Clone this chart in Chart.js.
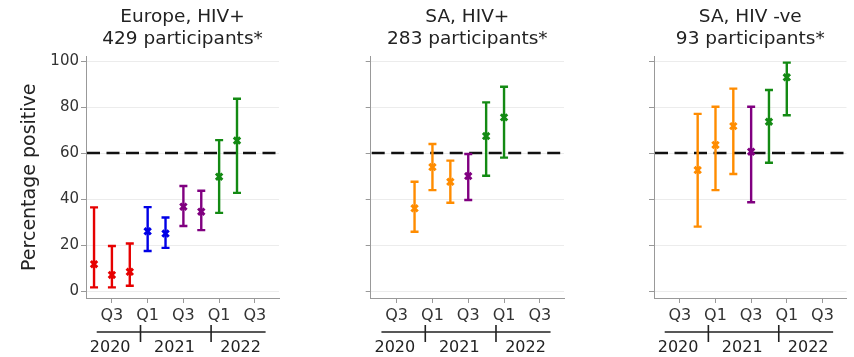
<!DOCTYPE html>
<html><head><meta charset="utf-8">
<script src="https://cdn.jsdelivr.net/npm/chart.js@4/dist/chart.umd.min.js"></script>
<style>
html,body{margin:0;padding:0;background:#fff;width:854px;height:357px;overflow:hidden}
canvas{position:absolute;top:0}
</style></head><body>
<canvas id="c1" width="290" height="357" style="left:0px"></canvas>
<canvas id="c2" width="275" height="357" style="left:300px"></canvas>
<canvas id="c3" width="264" height="357" style="left:590px"></canvas>
<script>
// ---- data ----
const quarterTickPos = [1, 3, 5, 7, 9];            // quarter index (0 = Q2 2020)
const quarterTickLabels = ['Q3', 'Q1', 'Q3', 'Q1', 'Q3'];
const yearLabels = ['2020', '2021', '2022'];
const yearLabelPos = [0.9, 4.5, 8.2];
const yearBoundaries = [2.6, 6.55];
const yearSpan = [0.15, 9.6];
const yTicks = [0, 20, 40, 60, 80, 100];
const threshold = 60;
const yTitle = 'Percentage positive';

const europeTitle = ['Europe, HIV+', '429 participants*'];
const europeQuarter = [0, 1, 2, 3, 4, 5, 6, 7, 8];
const europeEst = [11.7, 7.0, 8.4, 26.0, 25.0, 36.7, 34.5, 49.7, 65.4];
const europeLo  = [1.6, 1.6, 2.3, 17.4, 18.8, 28.3, 26.5, 34.0, 42.7];
const europeHi  = [36.4, 19.6, 20.7, 36.5, 32.0, 45.7, 43.6, 65.6, 83.6];
const europeWave = ['w1', 'w1', 'w1', 'w2', 'w2', 'w3', 'w3', 'w4', 'w4'];

const saPosTitle = ['SA, HIV+', '283 participants*'];
const saPosQuarter = [2, 3, 4, 5, 6, 7];
const saPosEst = [36.0, 53.9, 47.5, 50.0, 67.4, 75.5];
const saPosLo  = [25.8, 43.9, 38.4, 39.6, 50.1, 58.0];
const saPosHi  = [47.5, 63.9, 56.7, 59.6, 82.0, 88.8];
const saPosWave = ['w2b', 'w2b', 'w2b', 'w3', 'w4', 'w4'];

const saNegTitle = ['SA, HIV -ve', '93 participants*'];
const saNegQuarter = [2, 3, 4, 5, 6, 7];
const saNegEst = [52.6, 63.5, 71.7, 60.6, 73.6, 92.9];
const saNegLo  = [28.0, 43.9, 50.9, 38.6, 55.8, 76.4];
const saNegHi  = [77.0, 80.1, 88.0, 80.1, 87.4, 99.3];
const saNegWave = ['w2b', 'w2b', 'w2b', 'w3', 'w4', 'w4'];

// ---- styles ----
const waveColor = { w1: '#e60000', w2: '#0000e6', w2b: '#ff8c00', w3: '#800080', w4: '#138a13' };
const FONT = '"DejaVu Sans", sans-serif';
Chart.defaults.font.family = FONT;
Chart.defaults.color = '#333';

const refLine = {
  id: 'refLine',
  beforeDatasetsDraw(chart) {
    const { ctx, chartArea, scales: { y } } = chart;
    const py = y.getPixelForValue(threshold);
    ctx.save();
    ctx.strokeStyle = '#111'; ctx.lineWidth = 2.6; ctx.setLineDash([13, 6.5]);
    ctx.beginPath(); ctx.moveTo(chartArea.left + 1, py); ctx.lineTo(chartArea.right, py); ctx.stroke();
    ctx.restore();
  }
};

const errorBars = {
  id: 'errorBars',
  beforeDatasetsDraw(chart, args, opts) {
    const { ctx, scales: { x, y } } = chart;
    const d = opts.q;
    if (!d) return;
    ctx.save();
    ctx.lineWidth = 2.4;
    d.forEach((q, i) => {
      const px = x.getPixelForValue(q);
      const pl = y.getPixelForValue(opts.lo[i]);
      const ph = y.getPixelForValue(opts.hi[i]);
      ctx.strokeStyle = waveColor[opts.wave[i]];
      ctx.beginPath();
      ctx.moveTo(px, pl); ctx.lineTo(px, ph);
      ctx.moveTo(px - 4, pl); ctx.lineTo(px + 4, pl);
      ctx.moveTo(px - 4, ph); ctx.lineTo(px + 4, ph);
      ctx.stroke();
    });
    ctx.restore();
  }
};

const yearBracket = {
  id: 'yearBracket',
  afterDraw(chart) {
    const { ctx, chartArea, scales: { x } } = chart;
    const yl = chartArea.bottom + 34;
    ctx.save();
    ctx.strokeStyle = '#222'; ctx.lineWidth = 1.6;
    ctx.beginPath();
    ctx.moveTo(x.getPixelForValue(yearSpan[0]), yl);
    ctx.lineTo(x.getPixelForValue(yearSpan[1]), yl);
    yearBoundaries.forEach(b => {
      const px = x.getPixelForValue(b);
      ctx.moveTo(px, yl - 7); ctx.lineTo(px, yl + 10);
    });
    ctx.stroke();
    ctx.font = '16px ' + FONT; ctx.fillStyle = '#222';
    ctx.textAlign = 'center'; ctx.textBaseline = 'middle';
    yearLabels.forEach((t, i) => ctx.fillText(t, x.getPixelForValue(yearLabelPos[i]), chartArea.bottom + 50));
    ctx.restore();
  }
};

function makePanel(id, title, q, est, lo, hi, wave, showY, yWidth, padRight) {
  new Chart(document.getElementById(id), {
    type: 'scatter',
    data: {
      datasets: [{
        data: q.map((v, i) => ({ x: v, y: est[i] })),
        pointStyle: 'crossRot',
        pointRadius: 4.5,
        pointBorderWidth: 3,
        pointBorderColor: wave.map(w => waveColor[w]),
        pointBackgroundColor: wave.map(w => waveColor[w]),
        showLine: false
      }]
    },
    options: {
      responsive: false,
      animation: false,
      events: [],
      layout: { padding: { left: 0, right: padRight, top: 0, bottom: 0 } },
      plugins: {
        legend: { display: false },
        tooltip: { enabled: false },
        title: {
          display: true, text: title, fullSize: false, color: '#222',
          font: { size: 18.5, weight: 'normal', lineHeight: 1.2 },
          padding: { top: 6, bottom: 6 }
        },
        errorBars: { q, lo, hi, wave }
      },
      scales: {
        x: {
          type: 'linear', min: -0.45, max: 10.35,
          afterBuildTicks: s => { s.ticks = quarterTickPos.map(v => ({ value: v })); },
          afterFit: s => { s.height = 59; },
          ticks: { callback: (v, i) => quarterTickLabels[i], font: { size: 16 }, color: '#333', padding: 3, maxRotation: 0, autoSkip: false },
          grid: { drawOnChartArea: false, tickLength: 5, tickColor: '#999', tickWidth: 1 },
          border: { color: '#999', width: 1 }
        },
        y: {
          min: -3, max: 102,
          afterBuildTicks: s => { s.ticks = yTicks.map(v => ({ value: v })); },
          afterFit: s => { s.width = yWidth; },
          ticks: { display: showY, font: { size: 15 }, color: '#333', padding: 2 },
          grid: { color: '#ececec', tickColor: '#999', tickLength: 5, lineWidth: 1 },
          border: { color: '#999', width: 1 },
          title: { display: showY, text: yTitle, color: '#222', font: { size: 19 }, padding: { top: 18.6, bottom: 0 } }
        }
      }
    },
    plugins: [refLine, errorBars, yearBracket]
  });
}

makePanel('c1', europeTitle, europeQuarter, europeEst, europeLo, europeHi, europeWave, true, 86, 11);
makePanel('c2', saPosTitle, saPosQuarter, saPosEst, saPosLo, saPosHi, saPosWave, false, 70.7, 11);
makePanel('c3', saNegTitle, saNegQuarter, saNegEst, saNegLo, saNegHi, saNegWave, false, 64, 6);
</script>
</body></html>
